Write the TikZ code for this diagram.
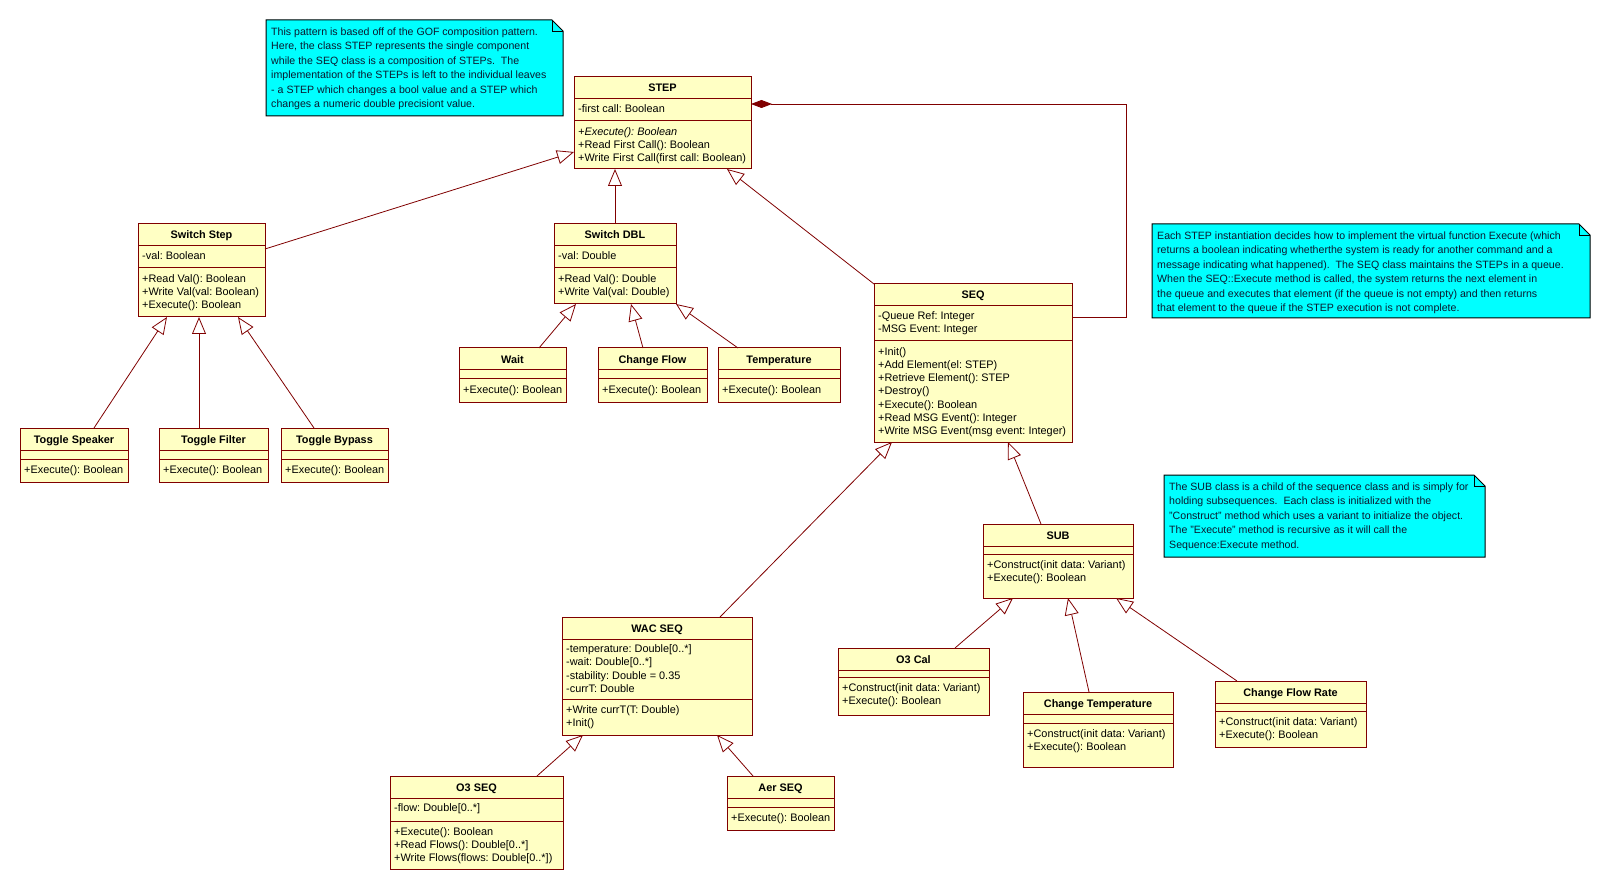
\documentclass[tikz,border=0pt]{standalone}
\usepackage{fontspec}
\setmainfont{Liberation Sans}
\usetikzlibrary{arrows.meta,calc}
\frenchspacing
\definecolor{umlline}{HTML}{800000}
\definecolor{umlfill}{HTML}{FFFFC4}
\definecolor{notefill}{HTML}{00FFFF}
\definecolor{notetextc}{HTML}{0A1A30}
\newcommand{\clsfont}{\fontsize{10.9}{13.2}\selectfont}
\newcommand{\notefont}{\fontsize{10.6}{14.5}\selectfont}
\tikzset{
  clsbox/.style={draw=umlline, fill=umlfill, line width=1pt, inner sep=0pt, outer sep=0pt, rectangle},
  umlsep/.style={draw=umlline, line width=1pt},
  clstitle/.style={anchor=base, font=\clsfont\bfseries, inner sep=0pt},
  clstext/.style={anchor=north west, font=\clsfont, align=left, inner sep=0pt},
  notebox/.style={draw=black, fill=notefill, line width=1pt},
  notefold/.style={draw=black, line width=0.6pt},
  notetext/.style={anchor=north west, font=\notefont, align=left, inner sep=0pt, text=notetextc},
  gen/.style={draw=umlline, line width=0.8pt, -{Triangle[open, length=17pt, width=14pt, fill=white, line width=0.8pt]}},
  compo/.style={draw=umlline, line width=0.8pt, -{Diamond[length=21pt, width=8pt, fill=umlline]}},
}
% name, x1, y1, x2, y2, sep2, title, attrs, ops
\newcommand{\umlcls}[9]{%
  \node[clsbox, minimum width={(#4-#2)*1pt}, minimum height={(#5-#3)*1pt}] (#1) at ({(#2+#4)/2},{(#3+#5)/2}) {};
  \draw[umlsep] ($(#1.north west)+(0,22)$) -- ($(#1.north east)+(0,22)$);
  \draw[umlsep] (#2,#6) -- (#4,#6);
  \node[clstitle] (#1-title) at ({(#2+#4)/2},{#3+15}) {#7};
  \node[clstext] (#1-attr) at ({#2+4},{#3+22+4}) {\rule{0pt}{9.5pt}#8};
  \node[clstext] (#1-ops) at ({#2+4},{#6+4.5}) {\rule{0pt}{9.5pt}#9};
}
% name, x1, y1, x2, y2, first baseline, text
\newcommand{\umlnote}[7]{%
  \path[notebox] (#2,#3) -- ({#4-11},#3) -- (#4,{#3+11}) -- (#4,#5) -- (#2,#5) -- cycle;
  \draw[notefold] ({#4-11},#3) -- ({#4-11},{#3+11}) -- (#4,{#3+11});
  \node[notetext] (#1) at ({#2+5},{#6-9.5}) {\rule{0pt}{9.5pt}#7};
}
\begin{document}
\begin{tikzpicture}[x=1pt, y=-1pt]
\useasboundingbox[fill=white] (0,0) rectangle (1614,890);

% notes
\umlnote{note1}{266}{20}{563}{116}{35}{This pattern is based off of the GOF composition pattern.\\Here, the class STEP represents the single component\\while the SEQ class is a composition of STEPs.\ \ The\\implementation of the STEPs is left to the individual leaves\\- a STEP which changes a bool value and a STEP which\\changes a numeric double precisiont value.}
\umlnote{note2}{1152}{224}{1590}{318}{239}{Each STEP instantiation decides how to implement the virtual function Execute (which\\returns a boolean indicating whetherthe system is ready for another command and a\\message indicating what happened).\ \ The SEQ class maintains the STEPs in a queue.\\When the SEQ::Execute method is called, the system returns the next element in\\the queue and executes that element (if the queue is not empty) and then returns\\that element to the queue if the STEP execution is not complete.}
\umlnote{note3}{1164}{475}{1485}{557}{490}{The SUB class is a child of the sequence class and is simply for\\holding subsequences.\ \ Each class is initialized with the\\"Construct" method which uses a variant to initialize the object.\\The "Execute" method is recursive as it will call the\\Sequence:Execute method.}

% classes
\umlcls{step}{574}{77}{751}{169}{121}{STEP}{-first call: Boolean}{\textit{+Execute(): Boolean}\\+Read First Call(): Boolean\\+Write First Call(first call: Boolean)}
\umlcls{swstep}{138}{224}{265}{317}{268}{Switch Step}{-val: Boolean}{+Read Val(): Boolean\\+Write Val(val: Boolean)\\+Execute(): Boolean}
\umlcls{swdbl}{554}{224}{676}{304}{268}{Switch DBL}{-val: Double}{+Read Val(): Double\\+Write Val(val: Double)}
\umlcls{tgspk}{20}{428}{128}{482}{459}{Toggle Speaker}{}{+Execute(): Boolean}
\umlcls{tgflt}{159}{428}{268}{482}{459}{Toggle Filter}{}{+Execute(): Boolean}
\umlcls{tgbyp}{281}{428}{388}{482}{459}{Toggle Bypass}{}{+Execute(): Boolean}
\umlcls{wait}{459}{348}{566}{402}{379}{Wait}{}{+Execute(): Boolean}
\umlcls{chflow}{598}{348}{707}{402}{379}{Change Flow}{}{+Execute(): Boolean}
\umlcls{temp}{718}{348}{840}{402}{379}{Temperature}{}{+Execute(): Boolean}
\umlcls{seq}{874}{284}{1072}{442}{341}{SEQ}{-Queue Ref: Integer\\-MSG Event: Integer}{+Init()\\+Add Element(el: STEP)\\+Retrieve Element(): STEP\\+Destroy()\\+Execute(): Boolean\\+Read MSG Event(): Integer\\+Write MSG Event(msg event: Integer)}
\umlcls{wac}{562}{617}{752}{735}{699}{WAC SEQ}{-temperature: Double[0..*]\\-wait: Double[0..*]\\-stability: Double = 0.35\\-currT: Double}{+Write currT(T: Double)\\+Init()}
\umlcls{o3seq}{390}{776}{563}{869}{821}{O3 SEQ}{-flow: Double[0..*]}{+Execute(): Boolean\\+Read Flows(): Double[0..*]\\+Write Flows(flows: Double[0..*])}
\umlcls{aer}{727}{776}{834}{830}{807}{Aer SEQ}{}{+Execute(): Boolean}
\umlcls{sub}{983}{524}{1133}{598}{554}{SUB}{}{+Construct(init data: Variant)\\+Execute(): Boolean}
\umlcls{o3cal}{838}{648}{989}{715}{677}{O3 Cal}{}{+Construct(init data: Variant)\\+Execute(): Boolean}
\umlcls{chtemp}{1023}{692}{1173}{767}{723}{Change Temperature}{}{+Construct(init data: Variant)\\+Execute(): Boolean}
\umlcls{cfr}{1215}{681}{1366}{747}{711}{Change Flow Rate}{}{+Construct(init data: Variant)\\+Execute(): Boolean}

% generalizations
\draw[gen] ($(swstep.north east)+(0,25)$) -- ($(step.north west)+(0,75)$);
\draw[gen] (swdbl.north) -- (swdbl.north |- step.south);
\draw[gen] (seq.north west) -- ($(step.south east)+(-24,0)$);
\draw[gen] ($(tgspk.north)+(20,0)$) -- ($(swstep.south west)+(29,0)$);
\draw[gen] ($(tgflt.north west)+(40,0)$) -- ($(swstep.south west)+(61,0)$);
\draw[gen] ($(tgbyp.north west)+(33,0)$) -- ($(swstep.south west)+(100,0)$);
\draw[gen] ($(wait.north west)+(80,0)$) -- ($(swdbl.south west)+(22,0)$);
\draw[gen] ($(chflow.north west)+(45,0)$) -- ($(swdbl.south west)+(77,0)$);
\draw[gen] ($(temp.north west)+(20,0)$) -- (swdbl.south east);
\draw[gen] ($(wac.north west)+(158,0)$) -- ($(seq.south west)+(18,0)$);
\draw[gen] ($(sub.north west)+(58,0)$) -- ($(seq.south west)+(134,0)$);
\draw[gen] ($(o3seq.north west)+(147,0)$) -- ($(wac.south west)+(21,0)$);
\draw[gen] ($(aer.north west)+(26,0)$) -- ($(wac.south west)+(155,0)$);
\draw[gen] ($(o3cal.north west)+(117,0)$) -- ($(sub.south west)+(30,0)$);
\draw[gen] ($(chtemp.north west)+(66,0)$) -- ($(sub.south west)+(85,0)$);
\draw[gen] ($(cfr.north west)+(22,0)$) -- ($(sub.south west)+(133,0)$);

% composition
\draw[compo] ($(seq.north east)+(0,33)$) -- ++(54,0) |- ($(step.north east)+(0,27)$);
\end{tikzpicture}
\end{document}
